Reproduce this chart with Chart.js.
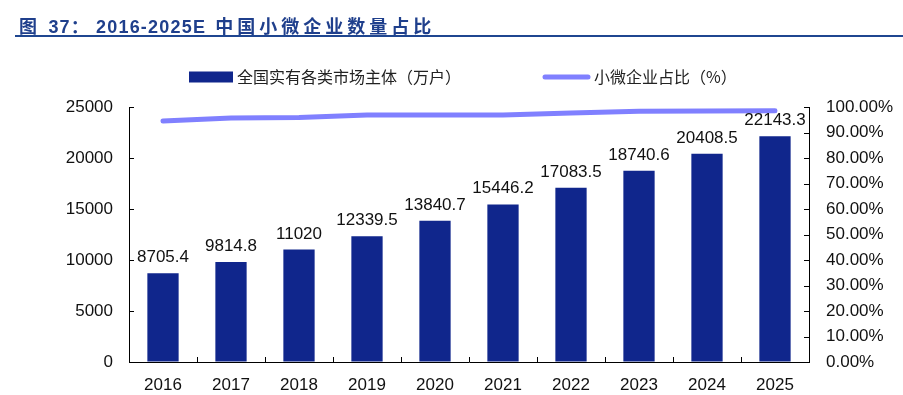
<!DOCTYPE html>
<html>
<head>
<meta charset="utf-8">
<script src="https://cdn.jsdelivr.net/npm/chart.js@4/dist/chart.umd.min.js"></script>
<style>
  body { margin: 0; background: #fff; }
  #wrap { position: relative; width: 903px; height: 395px; }
  #title {
    position: absolute; left: 15px; top: 0; width: 888px;
    padding: 12px 0 0 4px; height: 23px; box-sizing: content-box;
    line-height: 20px; border-bottom: 2px solid #1F4690;
    font: bold 18px "Liberation Sans", Arial, "Noto Sans CJK SC", sans-serif;
    color: #1F3F8C; letter-spacing: 1.2px; z-index: 2; white-space: nowrap;
  }
  #title .num { margin-left: 4px; }
  #title .yr { margin-left: 6px; }
  #title .cn { letter-spacing: 4px; margin-left: 3px; font-family: "Noto Sans CJK SC", sans-serif; }
  canvas { position: absolute; left: 0; top: 0; }
</style>
</head>
<body>
<div id="wrap">
  <div id="title">图 <span class="num">37：</span><span class="yr">2016-2025E</span> <span class="cn">中国小微企业数量占比</span></div>
  <canvas id="mainChart" width="903" height="395"></canvas>
</div>
<script>
const years = ['2016', '2017', '2018', '2019', '2020', '2021', '2022', '2023', '2024', '2025'];
// 全国实有各类市场主体（万户）
const marketEntities = [8705.4, 9814.8, 11020, 12339.5, 13840.7, 15446.2, 17083.5, 18740.6, 20408.5, 22143.3];
// 小微企业占比（%）
const smallMicroShare = [94.5, 95.7, 95.9, 96.9, 96.9, 96.9, 97.6, 98.3, 98.4, 98.5];

const leftMax = 25000, leftStep = 5000;
const rightMax = 100, rightStep = 10;

const BAR_COLOR = '#10268C';
const LINE_COLOR = '#8080FF';
const tickFont = { family: '"Liberation Sans", Arial, sans-serif', size: 17 };

// short tick marks drawn inside the plot area
const innerTicks = {
    id: 'innerTicks',
    afterDraw(chart) {
        const { ctx, chartArea: a } = chart;
        const sx = chart.scales.x, sy = chart.scales.y, sy1 = chart.scales.y1;
        ctx.save();
        ctx.strokeStyle = '#000';
        ctx.lineWidth = 1;
        ctx.beginPath();
        sy.ticks.forEach((t, i) => {
            const y = Math.round(sy.getPixelForTick(i)) + 0.5;
            ctx.moveTo(a.left, y); ctx.lineTo(a.left + 5, y);
        });
        sy1.ticks.forEach((t, i) => {
            const y = Math.round(sy1.getPixelForTick(i)) + 0.5;
            ctx.moveTo(a.right - 5, y); ctx.lineTo(a.right, y);
        });
        for (let i = 1; i < sx.ticks.length; i++) {
            const x = Math.round((sx.getPixelForTick(i - 1) + sx.getPixelForTick(i)) / 2) + 0.5;
            ctx.moveTo(x, a.bottom); ctx.lineTo(x, a.bottom - 5);
        }
        ctx.stroke();
        ctx.restore();
    }
};

// values above the bars
const barLabels = {
    id: 'barLabels',
    afterDatasetsDraw(chart) {
        const { ctx } = chart;
        const meta = chart.getDatasetMeta(0);
        const data = chart.data.datasets[0].data;
        ctx.save();
        ctx.font = '17px "Liberation Sans", Arial, sans-serif';
        ctx.fillStyle = '#111';
        ctx.textAlign = 'center';
        ctx.textBaseline = 'alphabetic';
        meta.data.forEach((bar, i) => {
            ctx.fillText(String(data[i]), bar.x, bar.y - 11);
        });
        ctx.restore();
    }
};

// legend laid out like the source figure
const sideLegend = {
    id: 'sideLegend',
    afterDraw(chart) {
        const { ctx } = chart;
        const ds = chart.data.datasets;
        const cy = 77;
        let x = 189;
        ctx.save();
        ctx.font = '16px "Noto Sans CJK SC", sans-serif';
        ctx.textBaseline = 'middle';
        ctx.fillStyle = ds[0].backgroundColor;
        ctx.fillRect(x, cy - 5.5, 44, 11);
        x += 48;
        ctx.fillStyle = '#222';
        ctx.fillText(ds[0].label, x, cy);
        x += ctx.measureText(ds[0].label).width + 82;
        ctx.strokeStyle = ds[1].borderColor;
        ctx.lineWidth = 5;
        ctx.lineCap = 'round';
        ctx.beginPath();
        ctx.moveTo(x + 2, cy); ctx.lineTo(x + 45, cy);
        ctx.stroke();
        x += 51;
        ctx.fillText(ds[1].label, x, cy);
        ctx.restore();
    }
};

const ctx = document.getElementById('mainChart').getContext('2d');
new Chart(ctx, {
    data: {
        labels: years,
        datasets: [{
            type: 'bar',
            label: '全国实有各类市场主体（万户）',
            data: marketEntities,
            backgroundColor: BAR_COLOR,
            borderWidth: 0,
            barPercentage: 0.46,
            categoryPercentage: 1,
            yAxisID: 'y',
            order: 2
        }, {
            type: 'line',
            label: '小微企业占比（%）',
            data: smallMicroShare,
            borderColor: LINE_COLOR,
            backgroundColor: LINE_COLOR,
            borderWidth: 5,
            borderCapStyle: 'round',
            pointRadius: 0,
            tension: 0,
            yAxisID: 'y1',
            order: 1
        }]
    },
    options: {
        responsive: false,
        animation: false,
        layout: { padding: { top: 107, left: 0, right: 0, bottom: 0 } },
        plugins: {
            legend: { display: false },
            tooltip: { enabled: false }
        },
        scales: {
            x: {
                grid: { drawOnChartArea: false, drawTicks: false },
                border: { color: '#000', width: 1 },
                ticks: { color: '#111', font: tickFont, padding: 13, maxRotation: 0 },
                afterFit: s => { s.height = 33; }
            },
            y: {
                position: 'left',
                min: 0, max: leftMax,
                grid: { drawOnChartArea: false, drawTicks: false },
                border: { color: '#000', width: 1 },
                ticks: {
                    stepSize: leftStep, color: '#111', font: tickFont, padding: 16,
                    callback: v => String(v)
                },
                afterFit: s => { s.width = 129; }
            },
            y1: {
                position: 'right',
                min: 0, max: rightMax,
                grid: { drawOnChartArea: false, drawTicks: false },
                border: { color: '#000', width: 1 },
                ticks: {
                    stepSize: rightStep, color: '#111', font: tickFont, padding: 17,
                    callback: v => v.toFixed(2) + '%'
                },
                afterFit: s => { s.width = 94; }
            }
        }
    },
    plugins: [innerTicks, barLabels, sideLegend]
});
</script>
</body>
</html>
